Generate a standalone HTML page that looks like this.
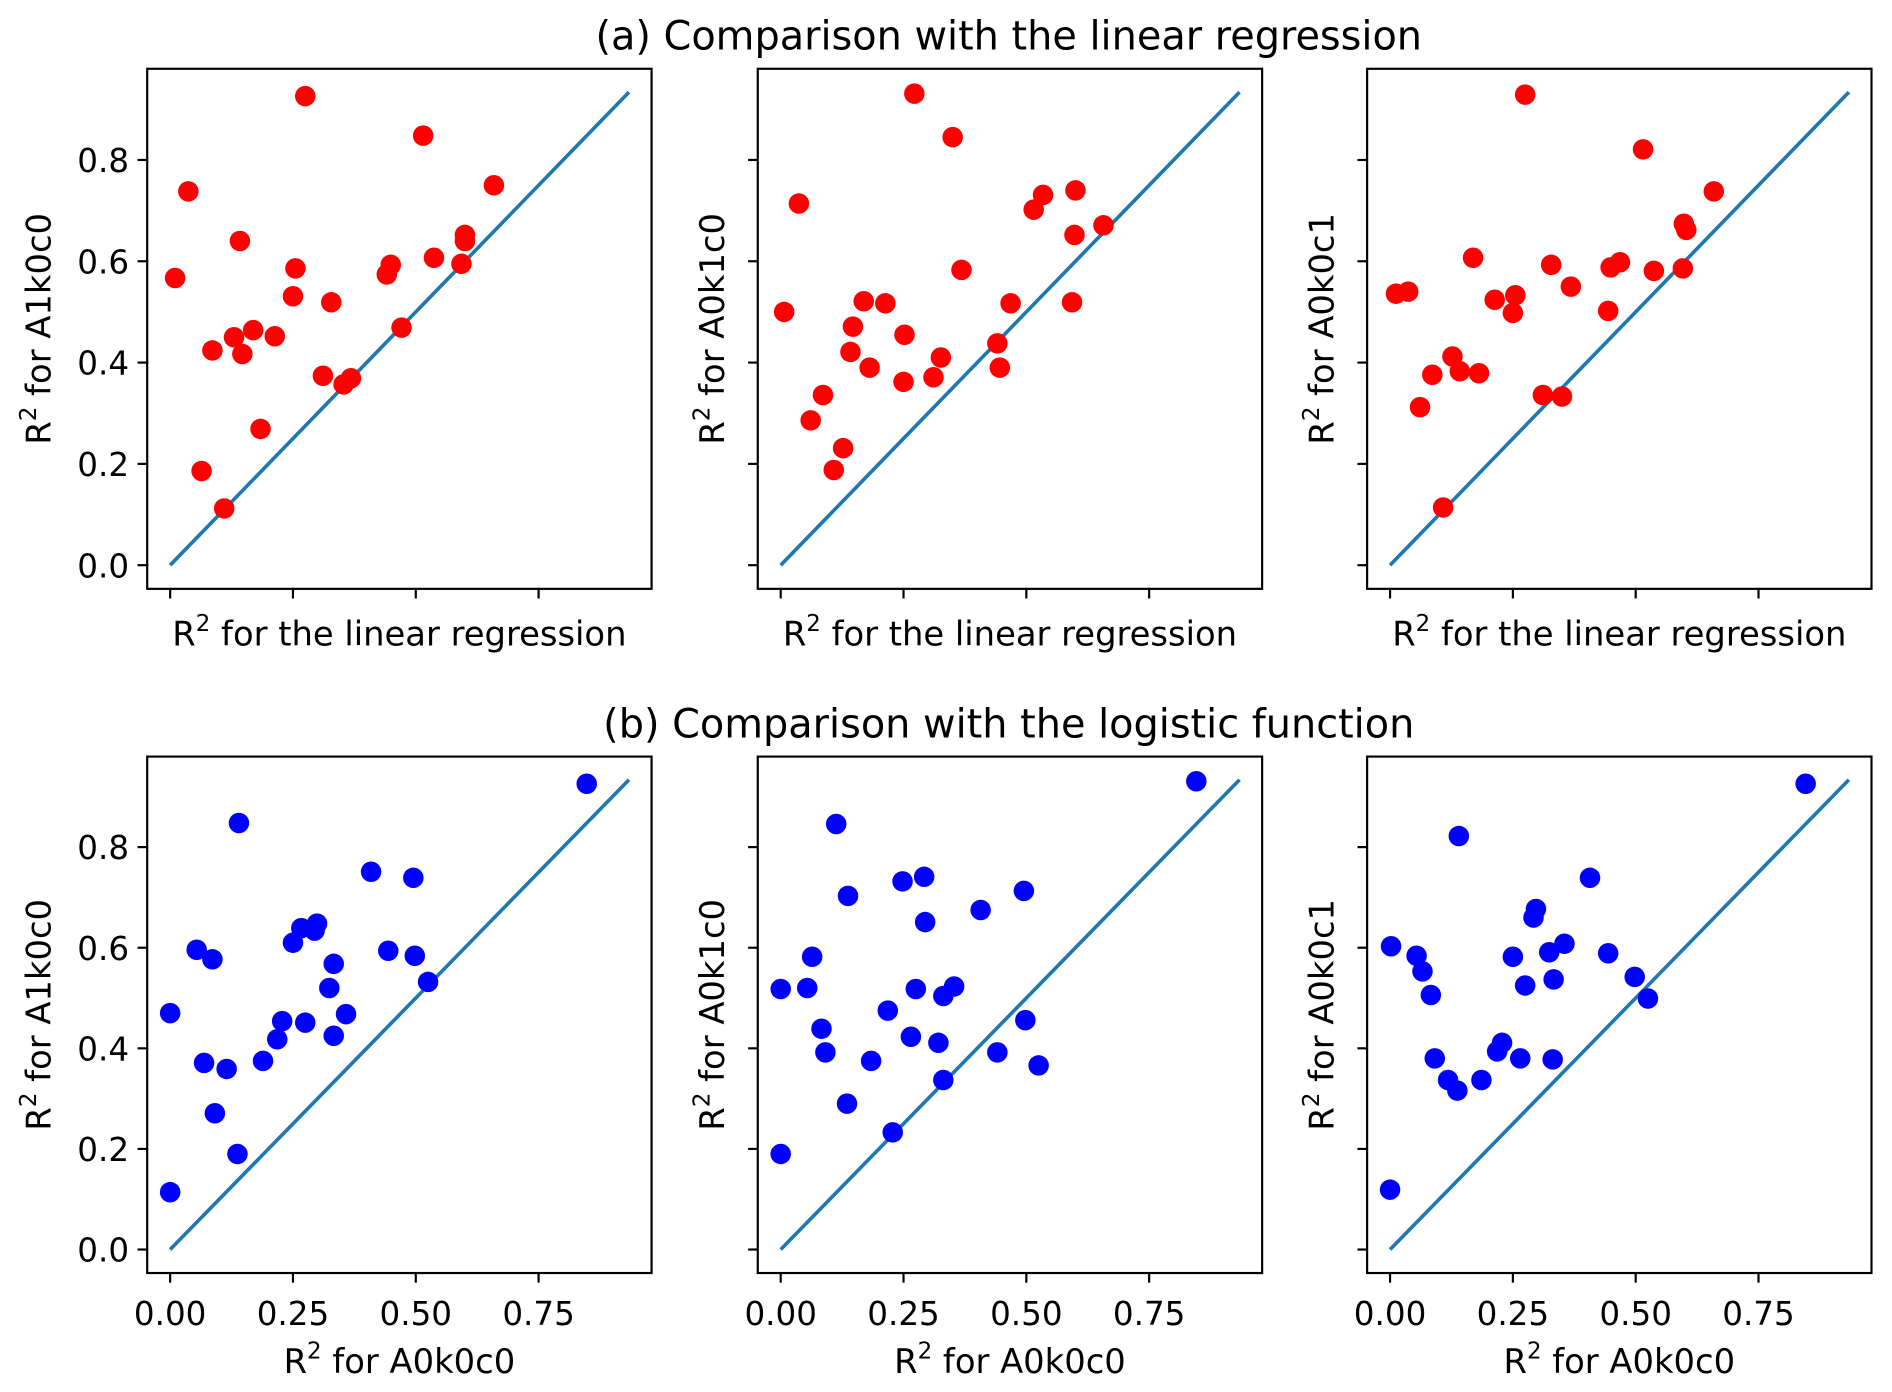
<!DOCTYPE html>
<html><head><meta charset="utf-8"><style>
html,body{margin:0;padding:0;background:#fff;}
svg{display:block;font-family:"DejaVu Sans","Liberation Sans",sans-serif;}
</style></head><body>
<svg id="chart" width="1892" height="1392" viewBox="0 0 1568 1153.6" preserveAspectRatio="none" xmlns="http://www.w3.org/2000/svg">
<text x="836" y="41" font-size="33" text-anchor="middle">(a) Comparison with the linear regression</text>
<text x="836" y="611" font-size="33" text-anchor="middle">(b) Comparison with the logistic function</text>
</svg>
<script>
// panel data (x, y values)
const a1X=[0.01,0.037,0.064,0.11,0.086,0.130,0.142,0.147,0.169,0.184,0.213,0.25,0.255,0.275,0.311,0.328,0.353,0.368,0.441,0.449,0.471,0.515,0.537,0.593,0.600,0.600,0.659];
const a1Y=[0.567,0.738,0.186,0.112,0.424,0.45,0.64,0.417,0.464,0.269,0.452,0.531,0.586,0.926,0.374,0.519,0.357,0.369,0.574,0.593,0.469,0.848,0.607,0.595,0.640,0.652,0.750];
const a2X=[0.007,0.037,0.061,0.086,0.108,0.127,0.142,0.147,0.169,0.181,0.213,0.25,0.252,0.272,0.311,0.326,0.350,0.368,0.441,0.446,0.468,0.515,0.534,0.593,0.598,0.600,0.657];
const a2Y=[0.5,0.714,0.286,0.336,0.188,0.231,0.421,0.471,0.521,0.390,0.517,0.362,0.455,0.931,0.371,0.41,0.845,0.583,0.438,0.39,0.517,0.702,0.731,0.519,0.652,0.740,0.671];
const a3X=[0.012,0.037,0.061,0.086,0.108,0.127,0.142,0.169,0.181,0.213,0.25,0.255,0.275,0.311,0.328,0.350,0.368,0.444,0.449,0.468,0.515,0.537,0.596,0.598,0.603,0.659];
const a3Y=[0.536,0.540,0.312,0.376,0.114,0.412,0.383,0.607,0.379,0.524,0.498,0.533,0.929,0.336,0.593,0.333,0.55,0.502,0.588,0.598,0.821,0.581,0.586,0.674,0.662,0.738];
const b1X=[0,0,0.054,0.069,0.086,0.091,0.115,0.140,0.137,0.189,0.218,0.228,0.25,0.267,0.275,0.294,0.299,0.324,0.333,0.333,0.358,0.409,0.444,0.495,0.498,0.525,0.848];
const b1Y=[0.470,0.114,0.596,0.371,0.577,0.271,0.359,0.848,0.190,0.375,0.418,0.454,0.610,0.639,0.451,0.634,0.648,0.520,0.568,0.425,0.468,0.751,0.594,0.739,0.584,0.532,0.926];
const b2X=[0,0,0.054,0.064,0.083,0.091,0.113,0.135,0.137,0.184,0.218,0.228,0.248,0.265,0.275,0.292,0.294,0.321,0.331,0.331,0.353,0.407,0.441,0.495,0.498,0.525,0.846];
const b2Y=[0.19,0.518,0.520,0.582,0.439,0.392,0.846,0.290,0.703,0.375,0.475,0.233,0.732,0.423,0.518,0.741,0.651,0.411,0.337,0.504,0.523,0.675,0.392,0.713,0.456,0.366,0.931];
const b3X=[0,0.002,0.054,0.066,0.083,0.091,0.118,0.137,0.140,0.186,0.218,0.228,0.250,0.265,0.275,0.292,0.297,0.324,0.331,0.333,0.355,0.407,0.444,0.498,0.525,0.846];
const b3Y=[0.119,0.603,0.584,0.553,0.506,0.380,0.337,0.316,0.822,0.337,0.394,0.411,0.582,0.380,0.525,0.660,0.677,0.591,0.378,0.537,0.608,0.739,0.589,0.542,0.499,0.926];
const yTicks=[0,0.2,0.4,0.6,0.8];
const yTickLabels=["0.0","0.2","0.4","0.6","0.8"];
const xTicks=[0,0.25,0.5,0.75];
const xTickLabels=["0.00","0.25","0.50","0.75"];
const diagMax=0.934;

const NS="http://www.w3.org/2000/svg";
const svg=document.getElementById('chart');
function mk(tag,attrs,parent){const e=document.createElementNS(NS,tag);for(const k in attrs)e.setAttribute(k,attrs[k]);(parent||svg).appendChild(e);return e;}
const lo=-0.0467,hi=0.98;
const cols=[122,628,1133], W=418;
const rows=[{top:57,bot:488},{top:627,bot:1055}];
const panels=[
 {r:0,c:0,x:a1X,y:a1Y,col:'#ff0000',yl:'A1k0c0',name:'a1'},
 {r:0,c:1,x:a2X,y:a2Y,col:'#ff0000',yl:'A0k1c0',name:'a2'},
 {r:0,c:2,x:a3X,y:a3Y,col:'#ff0000',yl:'A0k0c1',name:'a3'},
 {r:1,c:0,x:b1X,y:b1Y,col:'#0000ff',yl:'A1k0c0',name:'b1'},
 {r:1,c:1,x:b2X,y:b2Y,col:'#0000ff',yl:'A0k1c0',name:'b2'},
 {r:1,c:2,x:b3X,y:b3Y,col:'#0000ff',yl:'A0k0c1',name:'b3'}];
const SUP='<tspan dy="-12" font-size="19">2</tspan><tspan dy="12">';
panels.forEach(p=>{
 const L=cols[p.c],R=L+W,T=rows[p.r].top,B=rows[p.r].bot;
 const sx=v=>L+(v-lo)/(hi-lo)*W;
 const sy=v=>B-(v-lo)/(hi-lo)*(B-T);
 const g=mk('g',{});
 
 
 const ln=mk('line',{x1:sx(0),y1:sy(0),x2:sx(diagMax),y2:sy(diagMax),stroke:'#1f77b4','stroke-width':3},g);
 
 
 p.x.forEach((xv,i)=>{
  const c=mk('circle',{cx:sx(xv),cy:sy(p.y[i]),r:8.5,fill:p.col},g);
  
  
 });
 const fr=mk('rect',{x:L,y:T,width:W,height:B-T,fill:'none',stroke:'#000','stroke-width':1.8},g);
 
 
 yTicks.forEach((t,i)=>{
  const tk=mk('line',{x1:L-8,x2:L,y1:sy(t),y2:sy(t),stroke:'#000','stroke-width':1.8},g);
  
  
  if(p.c===0){const tx=mk('text',{x:L-15,y:sy(t)+10,'font-size':27,'text-anchor':'end'},g);tx.textContent=yTickLabels[i];
   
   }
 });
 xTicks.forEach((t,i)=>{
  const tk=mk('line',{x1:sx(t),x2:sx(t),y1:B,y2:B+8,stroke:'#000','stroke-width':1.8},g);
  
  
  if(p.r===1){const tx=mk('text',{x:sx(t),y:B+43,'font-size':27,'text-anchor':'middle'},g);tx.textContent=xTickLabels[i];
   
   }
 });
 const xl=mk('text',{x:(L+R)/2,y:p.r===0?B+47:B+83,'font-size':28,'text-anchor':'middle'},g);
 xl.innerHTML=p.r===0?'R'+SUP+' for the linear regression</tspan>':'R'+SUP+' for A0k0c0</tspan>';
 
 
 const yx=p.c===0?42:L-28, yy=(T+B)/2;
 const yl=mk('text',{x:yx,y:yy,'font-size':28,'text-anchor':'middle',transform:`rotate(-90 ${yx} ${yy})`},g);
 yl.innerHTML='R'+SUP+' for '+p.yl+'</tspan>';
 
 
});
</script>
</body></html>
